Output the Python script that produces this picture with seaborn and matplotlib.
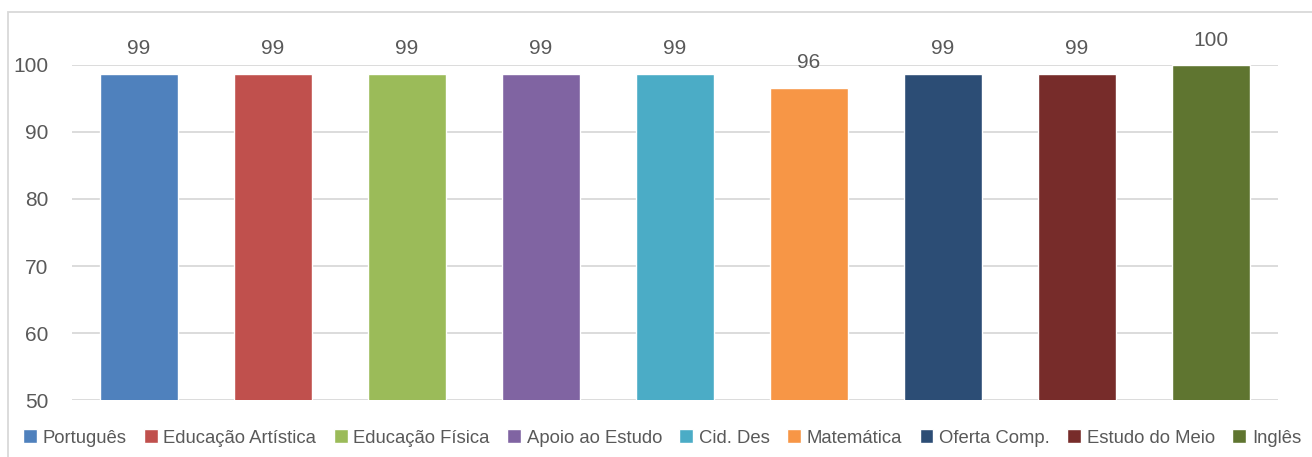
import matplotlib
matplotlib.use("Agg")
import matplotlib.pyplot as plt
from matplotlib.patches import Rectangle
import seaborn as sns

# chart data
subjects = ["Português", "Educação Artística", "Educação Física", "Apoio ao Estudo",
            "Cid. Des", "Matemática", "Oferta Comp.", "Estudo do Meio", "Inglês"]
values = [98.7, 98.7, 98.7, 98.7, 98.7, 96.6, 98.7, 98.7, 100]
value_labels = ["99", "99", "99", "99", "99", "96", "99", "99", "100"]
colors = ["#4F81BD", "#C0504D", "#9BBB59", "#8064A2", "#4BACC6",
          "#F79646", "#2C4D75", "#772C2A", "#5F7530"]
y_ticks = [50, 60, 70, 80, 90, 100]

sns.set_style("white")
plt.rcParams["font.family"] = ["Liberation Sans", "DejaVu Sans"]
text_col = "#595959"

fig = plt.figure(figsize=(13.12, 4.57), dpi=100)
ax = fig.add_axes([0.0549, 0.1247, 0.9191, 0.7331])

sns.barplot(x=subjects, y=values, hue=subjects, palette=colors,
            width=0.58, saturation=1, legend=True, ax=ax)

for cont, lab in zip(ax.containers, value_labels):
    ax.bar_label(cont, labels=[lab], padding=11, fontsize=15, color=text_col)

ax.set_ylim(50, 100)
ax.set_yticks(y_ticks)
ax.set_xlim(-0.5, len(subjects) - 0.5)
ax.set_xticks([])
ax.set_xlabel("")
ax.set_ylabel("")
ax.tick_params(axis="y", length=0, pad=17, labelsize=15, labelcolor=text_col)
ax.yaxis.grid(True, color="#d9d9d9", linewidth=1.3)
ax.set_axisbelow(True)
for s in ax.spines.values():
    s.set_visible(False)

handles, labels = ax.get_legend_handles_labels()
ax.get_legend().remove()
fig.legend(handles, labels, loc="center", bbox_to_anchor=(0.5046, 0.0416),
           ncol=len(subjects), frameon=False, fontsize=13.3,
           handlelength=0.75, handleheight=0.75, handletextpad=0.3,
           columnspacing=0.95, labelcolor=text_col)

# outer chart border
fig.patches.append(Rectangle((8 / 1312, -0.1), 1.2, 0.9737 + 0.1,
                             transform=fig.transFigure, fill=False,
                             edgecolor="#d9d9d9", linewidth=1.3))

fig.savefig("out.png", dpi=100)
